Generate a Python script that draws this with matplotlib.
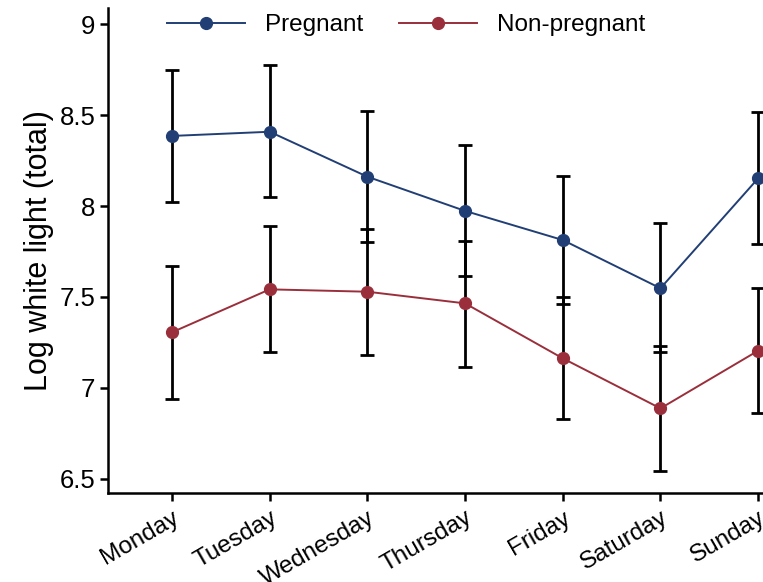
import matplotlib
matplotlib.use("Agg")
import matplotlib.pyplot as plt
import numpy as np

plt.rcParams['font.family'] = ['Liberation Sans', 'DejaVu Sans']

days = ["Monday", "Tuesday", "Wednesday", "Thursday", "Friday", "Saturday", "Sunday"]

preg_mean = [8.385, 8.408, 8.161, 7.973, 7.813, 7.548, 8.152]
preg_upper = [8.747, 8.773, 8.524, 8.335, 8.167, 7.908, 8.518]
preg_lower = [8.024, 8.048, 7.800, 7.615, 7.462, 7.196, 7.791]

nonp_mean = [7.306, 7.542, 7.529, 7.465, 7.163, 6.888, 7.205]
nonp_upper = [7.672, 7.890, 7.874, 7.809, 7.502, 7.232, 7.548]
nonp_lower = [6.940, 7.196, 7.181, 7.117, 6.830, 6.544, 6.861]

yticks = [6.5, 7, 7.5, 8, 8.5, 9]
ytick_labels = ["6.5", "7", "7.5", "8", "8.5", "9"]

blue = "#213f75"
red = "#9a2f3b"

fig = plt.figure(figsize=(7.63, 5.82), dpi=100)
ax = fig.add_axes([108/763, 89/582, 699/763, 485/582])

x = np.arange(len(days))

def draw(mean, lower, upper, color, label):
    mean = np.array(mean)
    yerr = np.vstack([mean - np.array(lower), np.array(upper) - mean])
    ax.errorbar(x, mean, yerr=yerr, fmt='none', ecolor='black', elinewidth=2,
                capsize=5, capthick=2, zorder=2)
    ax.plot(x, mean, '-o', color=color, lw=1.4, ms=8.5, label=label, zorder=3)

draw(preg_mean, preg_lower, preg_upper, blue, "Pregnant")
draw(nonp_mean, nonp_lower, nonp_upper, red, "Non-pregnant")

ax.set_xlim(-0.655, 6.5)
ax.set_ylim(6.423, 9.088)
ax.set_yticks(yticks)
ax.set_yticklabels(ytick_labels)
ax.set_xticks(x)
ax.set_xticklabels(days, rotation=30, ha='right', rotation_mode='anchor')

for s in ['top', 'right']:
    ax.spines[s].set_visible(False)
for s in ['left', 'bottom']:
    ax.spines[s].set_linewidth(1.8)
ax.tick_params(axis='both', width=1.8, length=6, colors='black')
ax.tick_params(axis='y', labelsize=18.5, pad=3)
ax.tick_params(axis='x', labelsize=17.5, pad=4)
ax.set_ylabel("Log white light (total)", fontsize=22, labelpad=4)

leg = ax.legend(loc='center left', bbox_to_anchor=(167/763, 1 - 25/582),
                bbox_transform=fig.transFigure, ncol=2, frameon=False,
                fontsize=17.5, handlelength=3.2, handletextpad=0.82,
                columnspacing=1.5, borderpad=0, borderaxespad=0)

fig.savefig("out.png", dpi=100)
